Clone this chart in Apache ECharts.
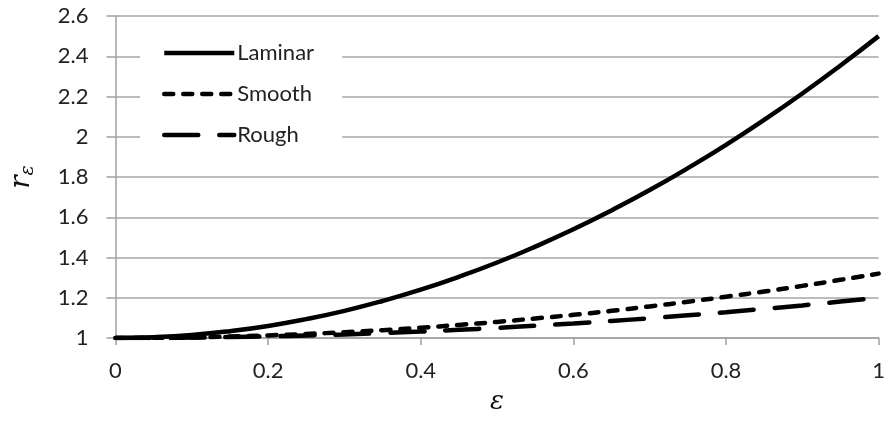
<!DOCTYPE html>
<html>
<head>
<meta charset="utf-8">
<script src="https://cdn.jsdelivr.net/npm/echarts@6/dist/echarts.min.js"></script>
<style>
  html, body { margin: 0; padding: 0; background: #fff; }
  #chart { width: 888px; height: 424px; }
</style>
</head>
<body>
<div id="chart"></div>
<script>
var eps = [0, 0.05, 0.1, 0.15, 0.2, 0.25, 0.3, 0.35, 0.4, 0.45, 0.5,
           0.55, 0.6, 0.65, 0.7, 0.75, 0.8, 0.85, 0.9, 0.95, 1];
var laminar = [1, 1.004, 1.015, 1.034, 1.06, 1.094, 1.135, 1.184, 1.24, 1.304, 1.375,
               1.454, 1.54, 1.634, 1.735, 1.844, 1.96, 2.084, 2.215, 2.354, 2.5];
var smooth = [1, 1.001, 1.003, 1.007, 1.013, 1.02, 1.029, 1.039, 1.051, 1.065, 1.08,
              1.097, 1.115, 1.135, 1.157, 1.18, 1.205, 1.231, 1.259, 1.289, 1.32];
var rough = [1, 1, 1.002, 1.005, 1.008, 1.013, 1.018, 1.025, 1.032, 1.041, 1.05,
             1.061, 1.072, 1.085, 1.098, 1.113, 1.128, 1.145, 1.162, 1.181, 1.2];
var seriesNames = ['Laminar', 'Smooth', 'Rough'];

function pairs(ys) {
    return eps.map(function (x, i) { return [x, ys[i]]; });
}

// dash patterns shared by lines and legend
var styles = [
    { color: '#000', width: 4.5, type: 'solid' },
    { color: '#000', width: 4.5, type: [9, 10], cap: 'round' },
    { color: '#000', width: 4.5, type: [34, 21], cap: 'round' }
];

var chart = echarts.init(document.getElementById('chart'));
var labelFont = 'Lato, "Open Sans", sans-serif';

var option = {
    animation: false,
    grid: { left: 109, right: 1, top: 16, bottom: 86 },
    legend: {
        data: seriesNames.map(function (n, i) {
            return { name: n, lineStyle: styles[i] };
        }),
        orient: 'vertical',
        left: 140,
        top: 32,
        padding: [10, 28, 14, 22],
        backgroundColor: '#fff',
        itemWidth: 70,
        itemHeight: 20,
        itemGap: 19,
        z: 5,
        itemStyle: { opacity: 0 },
        textStyle: { fontFamily: labelFont, fontSize: 22, color: '#222', padding: [0, 0, 0, -2] }
    },
    xAxis: {
        type: 'value',
        min: 0,
        max: 1,
        interval: 0.2,
        name: 'ε',
        nameLocation: 'middle',
        nameGap: 51,
        nameTextStyle: { fontFamily: '"DejaVu Serif", serif', fontStyle: 'italic', fontSize: 26, color: '#111' },
        axisLine: { lineStyle: { color: '#a0a0a0', width: 1.5 } },
        axisTick: { show: true, length: 7, lineStyle: { color: '#a0a0a0', width: 1.5 } },
        axisLabel: { margin: 22, fontFamily: labelFont, fontSize: 22, color: '#222' },
        splitLine: { show: false }
    },
    yAxis: {
        type: 'value',
        min: 1,
        max: 2.6,
        interval: 0.2,
        name: '{r|r}{s|ε}',
        nameLocation: 'middle',
        nameRotate: 90,
        nameGap: 78,
        nameTextStyle: {
            rich: {
                r: { fontFamily: '"DejaVu Serif", serif', fontStyle: 'italic', fontSize: 28, color: '#111' },
                s: { fontFamily: '"DejaVu Serif", serif', fontStyle: 'italic', fontSize: 19, color: '#111', padding: [12, 0, 0, 0] }
            }
        },
        axisLine: { show: true, lineStyle: { color: '#a0a0a0', width: 1.5 } },
        axisTick: { show: true, length: 9, lineStyle: { color: '#a0a0a0', width: 1.5 } },
        axisLabel: { margin: 27, fontFamily: labelFont, fontSize: 22, color: '#222' },
        splitLine: { lineStyle: { color: '#a6a6a6', width: 1.5 } }
    },
    series: [laminar, smooth, rough].map(function (ys, i) {
        return {
            name: seriesNames[i], type: 'line', smooth: true, symbol: 'none',
            data: pairs(ys),
            lineStyle: styles[i],
            itemStyle: { color: '#000' }
        };
    })
};

chart.setOption(option);
</script>
</body>
</html>
